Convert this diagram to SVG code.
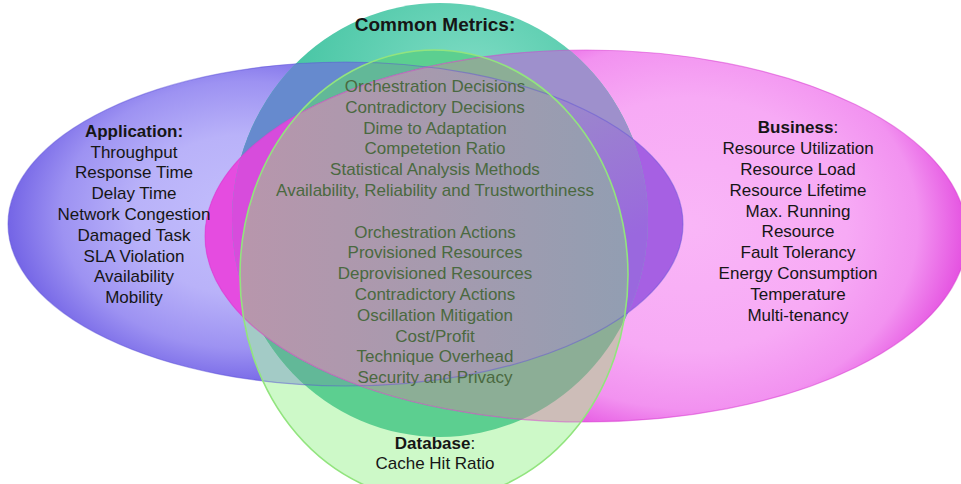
<svg xmlns="http://www.w3.org/2000/svg" width="961" height="484" viewBox="0 0 961 484">
<defs>
<style>
text{font-family:"Liberation Sans",Arial,sans-serif;font-size:17px;text-anchor:middle;fill:#161616}
.b{font-weight:bold}
.n{font-weight:normal}
.cm{fill:#4a6940}
.title{font-size:19px;font-weight:bold}
.outline{fill:none}
</style>
<clipPath id="cP"><ellipse cx="345.5" cy="224" rx="337.5" ry="162"/></clipPath>
<clipPath id="cM"><ellipse cx="586" cy="236" rx="381" ry="186"/></clipPath>
<clipPath id="cT"><ellipse cx="440" cy="220" rx="208" ry="217"/></clipPath>
<clipPath id="cG"><ellipse cx="434" cy="275" rx="194" ry="225"/></clipPath>
<radialGradient id="gP" gradientUnits="userSpaceOnUse" cx="0" cy="0" r="1" gradientTransform="translate(245,215) scale(245,178)">
<stop offset="0" stop-color="#c3befc"/>
<stop offset="0.45" stop-color="#b9b2f9"/>
<stop offset="0.75" stop-color="#9d92f2"/>
<stop offset="1" stop-color="#6e5ee4"/>
</radialGradient>
<radialGradient id="gM" gradientUnits="userSpaceOnUse" cx="0" cy="0" r="1" gradientTransform="translate(690,225) scale(285,230)">
<stop offset="0" stop-color="#f9b6f7"/>
<stop offset="0.55" stop-color="#f7aaf5"/>
<stop offset="0.8" stop-color="#f292f0"/>
<stop offset="1" stop-color="#e246de"/>
</radialGradient>
<radialGradient id="gT" gradientUnits="userSpaceOnUse" cx="0" cy="0" r="1" gradientTransform="translate(470,70) scale(210,150)">
<stop offset="0" stop-color="#7ddbc3"/>
<stop offset="1" stop-color="#3fc29f"/>
</radialGradient>
<linearGradient id="gPM" gradientUnits="userSpaceOnUse" x1="205" y1="0" x2="683" y2="0">
<stop offset="0.1" stop-color="#e54ce0"/>
<stop offset="0.85" stop-color="#a660e3"/>
</linearGradient>
<linearGradient id="gTMP" gradientUnits="userSpaceOnUse" x1="590" y1="100" x2="645" y2="230">
<stop offset="0" stop-color="#9b86cd"/>
<stop offset="1" stop-color="#9a68de"/>
</linearGradient>
<linearGradient id="gGMP" gradientUnits="userSpaceOnUse" x1="240" y1="0" x2="628" y2="0">
<stop offset="0" stop-color="#b896ac"/>
<stop offset="0.5" stop-color="#a69aae"/>
<stop offset="1" stop-color="#929eb2"/>
</linearGradient>
</defs>
<rect width="961" height="484" fill="#ffffff"/>

<g id="node-application-shape"><ellipse cx="345.5" cy="224" rx="337.5" ry="162" fill="url(#gP)"/></g>
<g id="node-business-shape"><ellipse cx="586" cy="236" rx="381" ry="186" fill="url(#gM)"/></g>
<g id="node-common-shape"><ellipse cx="440" cy="220" rx="208" ry="217" fill="url(#gT)"/></g>
<g id="node-database-shape"><ellipse cx="434" cy="275" rx="194" ry="225" fill="#cdf9c8"/></g>

<g id="overlaps">
<g clip-path="url(#cP)"><rect clip-path="url(#cM)" x="0" y="0" width="961" height="484" fill="url(#gPM)"/></g>
<g clip-path="url(#cP)"><rect clip-path="url(#cT)" x="0" y="0" width="961" height="484" fill="#668ace"/></g>
<g clip-path="url(#cT)"><rect clip-path="url(#cM)" x="0" y="0" width="961" height="484" fill="#9e90cc"/></g>
<g clip-path="url(#cT)"><g clip-path="url(#cM)"><g clip-path="url(#cP)">
<rect x="0" y="0" width="300" height="484" fill="#d74cdc"/>
<rect x="300" y="0" width="661" height="484" fill="url(#gTMP)"/>
</g></g></g>
<g clip-path="url(#cG)">
<rect clip-path="url(#cP)" x="0" y="0" width="961" height="484" fill="#a3cbc6"/>
<rect clip-path="url(#cT)" x="0" y="0" width="961" height="484" fill="#5ccf90"/>
<g clip-path="url(#cT)"><rect clip-path="url(#cP)" x="0" y="0" width="961" height="484" fill="#62b898"/></g>
<rect clip-path="url(#cM)" x="0" y="0" width="961" height="484" fill="#cdbdb8"/>
<g clip-path="url(#cM)"><rect clip-path="url(#cT)" x="0" y="0" width="961" height="484" fill="#8cae96"/></g>
<g clip-path="url(#cM)"><rect clip-path="url(#cP)" x="0" y="0" width="961" height="484" fill="url(#gGMP)"/></g>
</g>
</g>

<g id="outlines" class="outline">
<ellipse cx="345.5" cy="224" rx="337.5" ry="162" stroke="#5b50d8" stroke-opacity="0.45" stroke-width="1.2"/>
<ellipse cx="586" cy="236" rx="381" ry="186" stroke="#d83ccf" stroke-opacity="0.5" stroke-width="1.2"/>
<ellipse cx="434" cy="275" rx="194" ry="225" stroke="#92e47e" stroke-width="1.6"/>
</g>

<g id="connectors"/>

<g id="node-common">
<text x="435" y="31" class="title">Common Metrics:</text>
<text class="cm" x="435" y="92">Orchestration Decisions</text>
<text class="cm" x="435" y="112.8">Contradictory Decisions</text>
<text class="cm" x="435" y="133.6">Dime to Adaptation</text>
<text class="cm" x="435" y="154.4">Competetion Ratio</text>
<text class="cm" x="435" y="175.2">Statistical Analysis Methods</text>
<text class="cm" x="435" y="196">Availability, Reliability and Trustworthiness</text>
<text class="cm" x="435" y="237.6">Orchestration Actions</text>
<text class="cm" x="435" y="258.4">Provisioned Resources</text>
<text class="cm" x="435" y="279.2">Deprovisioned Resources</text>
<text class="cm" x="435" y="300">Contradictory Actions</text>
<text class="cm" x="435" y="320.8">Oscillation Mitigation</text>
<text class="cm" x="435" y="341.6">Cost/Profit</text>
<text class="cm" x="435" y="362.4">Technique Overhead</text>
<text class="cm" x="435" y="383.2">Security and Privacy</text>
</g>

<g id="node-application">
<text x="134" y="136.7" class="b">Application:</text>
<text x="134" y="157.5">Throughput</text>
<text x="134" y="178.3">Response Time</text>
<text x="134" y="199.1">Delay Time</text>
<text x="134" y="219.9">Network Congestion</text>
<text x="134" y="240.7">Damaged Task</text>
<text x="134" y="261.5">SLA Violation</text>
<text x="134" y="282.3">Availability</text>
<text x="134" y="303.1">Mobility</text>
</g>

<g id="node-business">
<text x="798" y="133.3"><tspan class="b">Business</tspan><tspan class="n">:</tspan></text>
<text x="798" y="154.1">Resource Utilization</text>
<text x="798" y="174.9">Resource Load</text>
<text x="798" y="195.7">Resource Lifetime</text>
<text x="798" y="216.5">Max. Running</text>
<text x="798" y="237.3">Resource</text>
<text x="798" y="258.1">Fault Tolerancy</text>
<text x="798" y="278.9">Energy Consumption</text>
<text x="798" y="299.7">Temperature</text>
<text x="798" y="320.5">Multi-tenancy</text>
</g>

<g id="node-database">
<text x="435" y="449"><tspan class="b">Database</tspan><tspan class="n">:</tspan></text>
<text x="435" y="469.3">Cache Hit Ratio</text>
</g>
</svg>
